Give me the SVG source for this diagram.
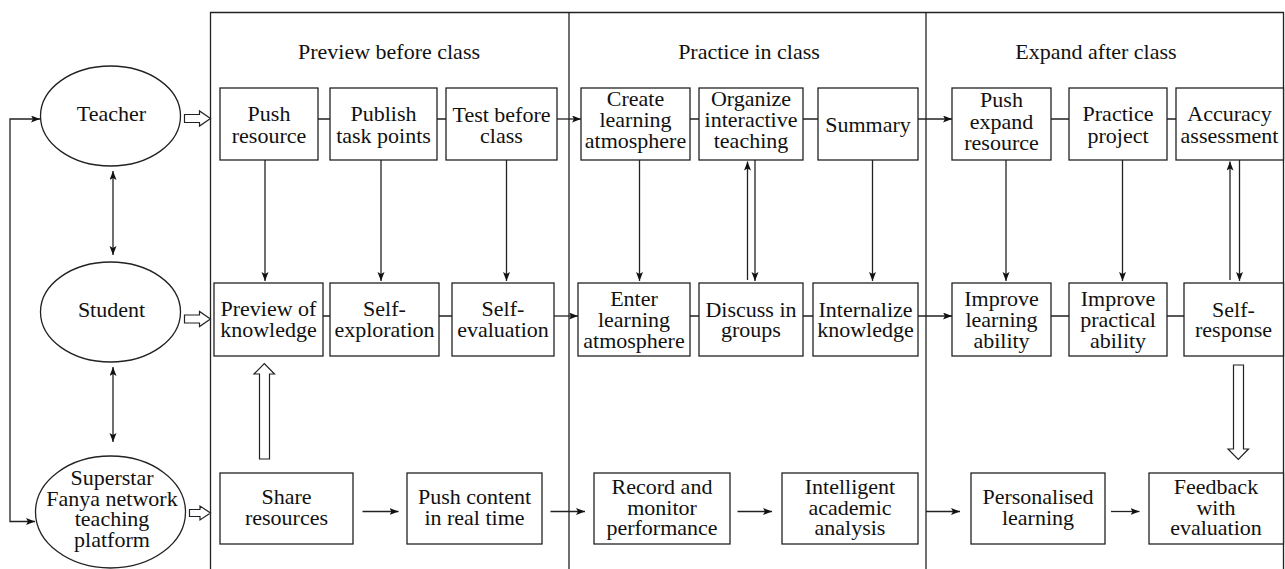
<svg xmlns="http://www.w3.org/2000/svg" width="1285" height="569" viewBox="0 0 1285 569" font-family="'Liberation Serif', 'Times New Roman', Tinos, serif">
<style>
  .bx{fill:#fff;stroke:#222;stroke-width:1.3}
  .el{fill:#fff;stroke:#222;stroke-width:1.3}
  .ln{fill:none;stroke:#222;stroke-width:1.3}
  .ar{fill:none;stroke:#222;stroke-width:1.3;marker-end:url(#ah)}
  .da{fill:none;stroke:#222;stroke-width:1.3;marker-end:url(#ah);marker-start:url(#ahs)}
  .ho{fill:#fff;stroke:#222;stroke-width:1.2}
  text{font-family:'Liberation Serif','Times New Roman',Tinos,serif;font-size:22px;fill:#111;text-anchor:middle}
</style>
<defs>
  <marker id="ah" markerUnits="userSpaceOnUse" markerWidth="10" markerHeight="8" refX="9" refY="3.5" orient="auto">
    <path d="M0,0 L9,3.5 L0,7 L2,3.5 z" fill="#111"/>
  </marker>
  <marker id="ahs" markerUnits="userSpaceOnUse" markerWidth="10" markerHeight="8" refX="9" refY="3.5" orient="auto-start-reverse">
    <path d="M0,0 L9,3.5 L0,7 L2,3.5 z" fill="#111"/>
  </marker>
</defs>

<g id="frame">
  <path class="ln" d="M210.5,569 V12.5 H1283.5 V569"/>
  <path class="ln" d="M569,12.5 V569"/>
  <path class="ln" d="M926,12.5 V569"/>
  <text x="389" y="59">Preview before class</text>
  <text x="749" y="59">Practice in class</text>
  <text x="1096" y="59">Expand after class</text>
</g>

<g id="teacher">
  <ellipse class="el" cx="110.5" cy="116" rx="70" ry="50"/>
  <text x="111.5" y="120.5">Teacher</text>
</g>
<g id="student">
  <ellipse class="el" cx="110.5" cy="312" rx="70" ry="50"/>
  <text x="111.5" y="317">Student</text>
</g>
<g id="platform">
  <ellipse class="el" cx="110.5" cy="512" rx="75" ry="56"/>
  <text x="112" y="485">Superstar</text>
  <text x="112" y="505.5">Fanya network</text>
  <text x="112" y="526">teaching</text>
  <text x="112" y="546.5">platform</text>
</g>

<g id="push-resource"><rect class="bx" x="220" y="88" width="98" height="72"/><text x="269" y="120.5">Push</text><text x="269" y="142.5">resource</text></g>
<g id="publish-task-points"><rect class="bx" x="330" y="88" width="107" height="72"/><text x="383.5" y="120.5">Publish</text><text x="383.5" y="142.5">task points</text></g>
<g id="test-before-class"><rect class="bx" x="446" y="88" width="111" height="72"/><text x="501.5" y="121.5">Test before</text><text x="501.5" y="142.5">class</text></g>
<g id="create-learning-atmosphere"><rect class="bx" x="581" y="88" width="109" height="72"/><text x="635.5" y="106">Create</text><text x="635.5" y="127">learning</text><text x="635.5" y="148">atmosphere</text></g>
<g id="organize-interactive-teaching"><rect class="bx" x="699" y="88" width="104" height="72"/><text x="751" y="106">Organize</text><text x="751" y="127">interactive</text><text x="751" y="148">teaching</text></g>
<g id="summary"><rect class="bx" x="818" y="88" width="100" height="72"/><text x="868" y="131.5">Summary</text></g>
<g id="push-expand-resource"><rect class="bx" x="952" y="88" width="99" height="72"/><text x="1001.5" y="107">Push</text><text x="1001.5" y="128.5">expand</text><text x="1001.5" y="150">resource</text></g>
<g id="practice-project"><rect class="bx" x="1069" y="88" width="98" height="72"/><text x="1118" y="121">Practice</text><text x="1118" y="142.5">project</text></g>
<g id="accuracy-assessment"><rect class="bx" x="1176" y="88" width="107.5" height="72"/><text x="1229.5" y="121">Accuracy</text><text x="1229.5" y="142.5">assessment</text></g>

<g id="preview-of-knowledge"><rect class="bx" x="214" y="283" width="109" height="73"/><text x="268.5" y="315.5">Preview of</text><text x="268.5" y="336.5">knowledge</text></g>
<g id="self-exploration"><rect class="bx" x="330" y="283" width="109" height="73"/><text x="384.5" y="315.5">Self-</text><text x="384.5" y="336.5">exploration</text></g>
<g id="self-evaluation"><rect class="bx" x="452" y="283" width="102" height="73"/><text x="503" y="315.5">Self-</text><text x="503" y="336.5">evaluation</text></g>
<g id="enter-learning-atmosphere"><rect class="bx" x="578" y="283" width="112" height="73"/><text x="634" y="306">Enter</text><text x="634" y="327">learning</text><text x="634" y="348">atmosphere</text></g>
<g id="discuss-in-groups"><rect class="bx" x="699" y="283" width="104" height="73"/><text x="751" y="316.5">Discuss in</text><text x="751" y="336.5">groups</text></g>
<g id="internalize-knowledge"><rect class="bx" x="813" y="283" width="105" height="73"/><text x="865.5" y="316.5">Internalize</text><text x="865.5" y="336.5">knowledge</text></g>
<g id="improve-learning-ability"><rect class="bx" x="952" y="283" width="99" height="73"/><text x="1001.5" y="306">Improve</text><text x="1001.5" y="327">learning</text><text x="1001.5" y="348">ability</text></g>
<g id="improve-practical-ability"><rect class="bx" x="1069" y="283" width="98" height="73"/><text x="1118" y="306">Improve</text><text x="1118" y="327">practical</text><text x="1118" y="348">ability</text></g>
<g id="self-response"><rect class="bx" x="1184" y="283" width="99.5" height="73"/><text x="1233.5" y="316.5">Self-</text><text x="1233.5" y="336.5">response</text></g>

<g id="share-resources"><rect class="bx" x="220" y="473" width="133" height="71"/><text x="286.5" y="503.5">Share</text><text x="286.5" y="525">resources</text></g>
<g id="push-content"><rect class="bx" x="407" y="473" width="135" height="71"/><text x="474.5" y="503.5">Push content</text><text x="474.5" y="524.5">in real time</text></g>
<g id="record-monitor"><rect class="bx" x="594" y="473" width="136" height="71"/><text x="662" y="494">Record and</text><text x="662" y="514.5">monitor</text><text x="662" y="535">performance</text></g>
<g id="intelligent-analysis"><rect class="bx" x="782" y="473" width="136" height="71"/><text x="850" y="494">Intelligent</text><text x="850" y="514.5">academic</text><text x="850" y="535">analysis</text></g>
<g id="personalised-learning"><rect class="bx" x="971" y="473" width="134" height="71"/><text x="1038" y="503.5">Personalised</text><text x="1038" y="525">learning</text></g>
<g id="feedback-evaluation"><rect class="bx" x="1149" y="473" width="134.5" height="71"/><text x="1216" y="494">Feedback</text><text x="1216" y="514.5">with</text><text x="1216" y="535">evaluation</text></g>

<g id="connectors">
  <path class="da" d="M35,521.5 H10 V119 H40"/>
  <path class="da" d="M113,171 V255"/>
  <path class="da" d="M113,367 V442"/>
  <path class="ho" d="M184.5,114.5 H199.5 V111 L210.5,118.5 L199.5,126 V122.5 H184.5 Z"/>
  <path class="ho" d="M184.5,315 H199.5 V311.5 L210.5,319 L199.5,326.5 V323 H184.5 Z"/>
  <path class="ho" d="M189.5,509.5 H200 V506 L210.5,513 L200,520 V516.5 H189.5 Z"/>
  <path class="ho" d="M259.5,459 V374 H254 L264.3,363.5 L274.5,374 H269.5 V459 Z"/>
  <path class="ho" d="M1233.5,365 V449 H1228 L1238.3,459.5 L1248.5,449 H1243.5 V365 Z"/>
  <path class="ln" d="M318,119 H330 M437,119 H446 M690,119 H699 M803,119 H818 M1051,119 H1069 M1167,119 H1176"/>
  <path class="ar" d="M557,119 H581"/>
  <path class="ar" d="M918,119 H952"/>
  <path class="ln" d="M323,316 H330 M439,316 H452 M690,316 H699 M803,316 H813 M1051,316 H1069 M1167,316 H1184"/>
  <path class="ar" d="M554,316 H578"/>
  <path class="ar" d="M918,316 H952"/>
  <path class="ar" d="M362.5,511.5 H398.5"/>
  <path class="ar" d="M550.5,511.5 H585"/>
  <path class="ar" d="M737.5,511.5 H772"/>
  <path class="ar" d="M926,511.5 H960"/>
  <path class="ar" d="M1111,511.5 H1139.5"/>
  <path class="ar" d="M265,160 V281"/>
  <path class="ar" d="M381,160 V281"/>
  <path class="ar" d="M506.5,160 V281"/>
  <path class="ar" d="M639.5,160 V281"/>
  <path class="ar" d="M755,160 V281"/>
  <path class="ar" d="M747.5,280 V161.5"/>
  <path class="ar" d="M872.5,160 V281"/>
  <path class="ar" d="M1006,160 V281"/>
  <path class="ar" d="M1122.5,160 V281"/>
  <path class="ar" d="M1239.5,160 V281"/>
  <path class="ar" d="M1230,280 V161.5"/>
</g>
</svg>
